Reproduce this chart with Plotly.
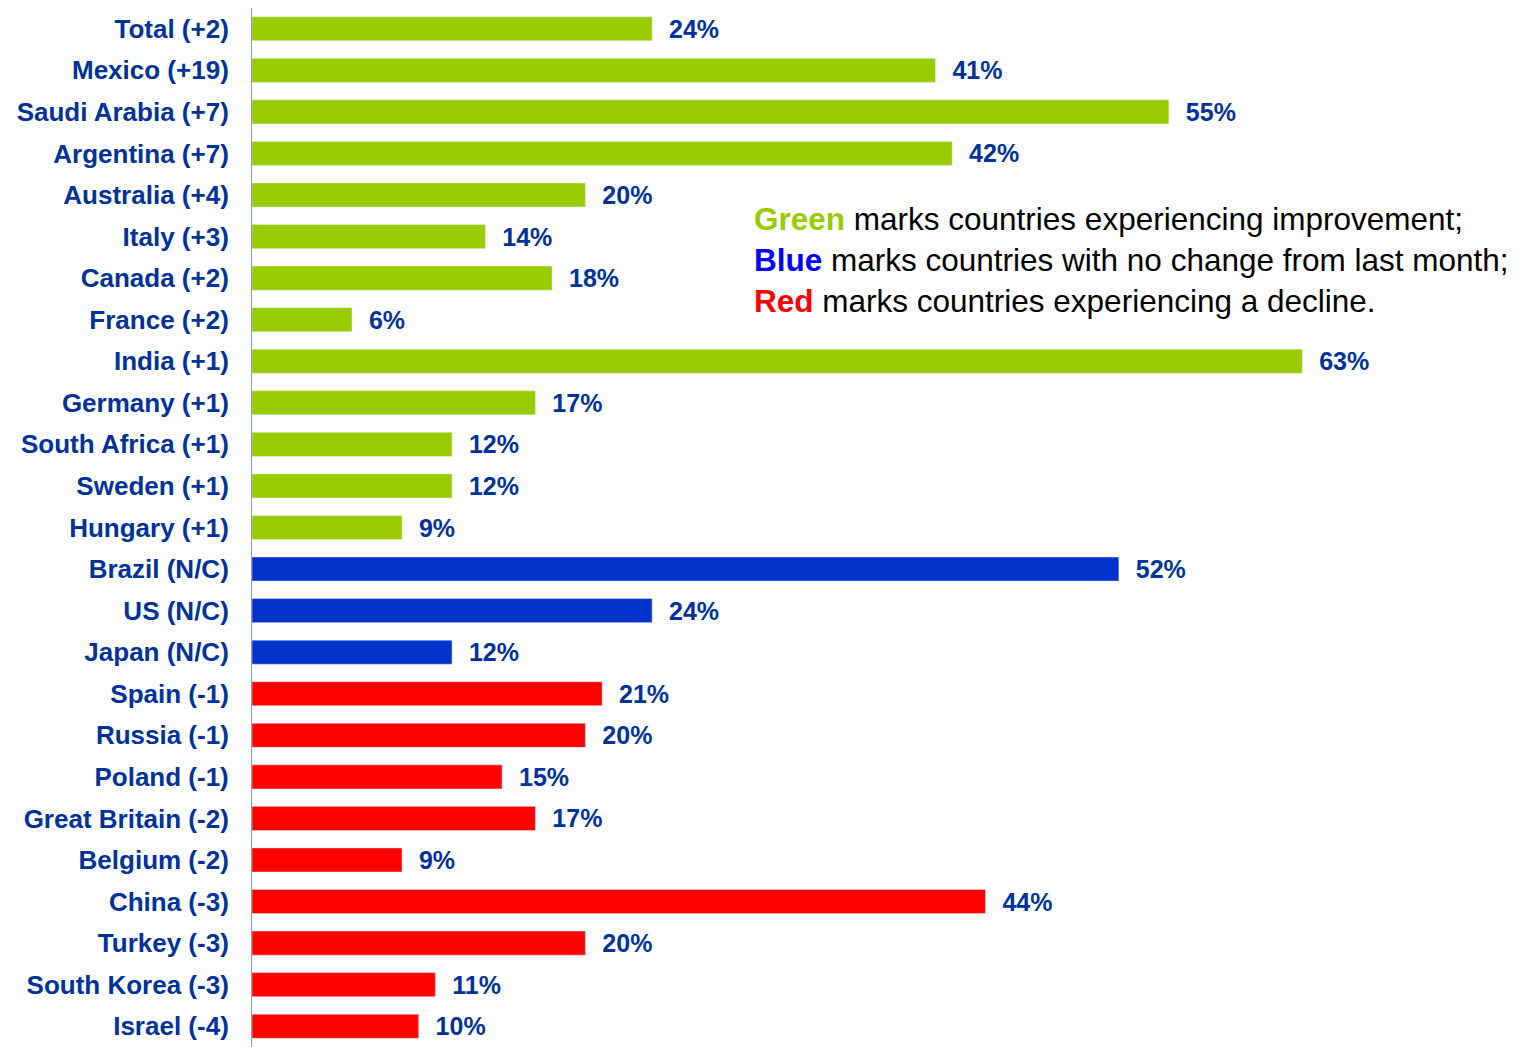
import plotly.graph_objects as go

countries = ["Total (+2)","Mexico (+19)","Saudi Arabia (+7)","Argentina (+7)","Australia (+4)","Italy (+3)",
 "Canada (+2)","France (+2)","India (+1)","Germany (+1)","South Africa (+1)","Sweden (+1)","Hungary (+1)",
 "Brazil (N/C)","US (N/C)","Japan (N/C)","Spain (-1)","Russia (-1)","Poland (-1)","Great Britain (-2)",
 "Belgium (-2)","China (-3)","Turkey (-3)","South Korea (-3)","Israel (-4)"]
values = [24,41,55,42,20,14,18,6,63,17,12,12,9,52,24,12,21,20,15,17,9,44,20,11,10]
status = ["g"]*13 + ["b"]*3 + ["r"]*9
cmap = {"g":"#99CC00","b":"#0033CC","r":"#FF0000"}

fig = go.Figure(go.Bar(
    y=countries, x=values, orientation="h",
    marker_color=[cmap[s] for s in status],
    text=[f"{v}%" for v in values], textposition="outside",
    texttemplate="\u00a0\u00a0<b>%{text}</b>", constraintext="none",
    textfont=dict(family="Liberation Sans", size=25, color="#003399"),
    cliponaxis=False, width=0.58))
fig.update_layout(
    width=1526, height=1047, plot_bgcolor="white", paper_bgcolor="white",
    margin=dict(l=244, r=0, t=0, b=8), showlegend=False,
    xaxis=dict(range=[0, 76.9], visible=False),
    yaxis=dict(autorange="reversed", showline=True, linecolor="#8899AA", linewidth=1,
               ticks="", ticklabelstandoff=17, tickprefix="<b>", ticksuffix="</b>",
               tickfont=dict(family="Liberation Sans", size=26, color="#003399")),
    font=dict(family="Liberation Sans"))
fig.add_annotation(xref="paper", yref="paper", x=(744-244)/1282, y=1-(199-8)/1039,
    xanchor="left", yanchor="top", align="left", showarrow=False,
    font=dict(family="Liberation Sans", size=31.5, color="black"),
    text="<b><span style='color:#99CC00'>Green</span></b> marks countries experiencing improvement;<br>"
         "<b><span style='color:#0000FF'>Blue</span></b> marks countries with no change from last month;<br>"
         "<b><span style='color:#FF0000'>Red</span></b> marks countries experiencing a decline.")
fig.write_html("out.html")
